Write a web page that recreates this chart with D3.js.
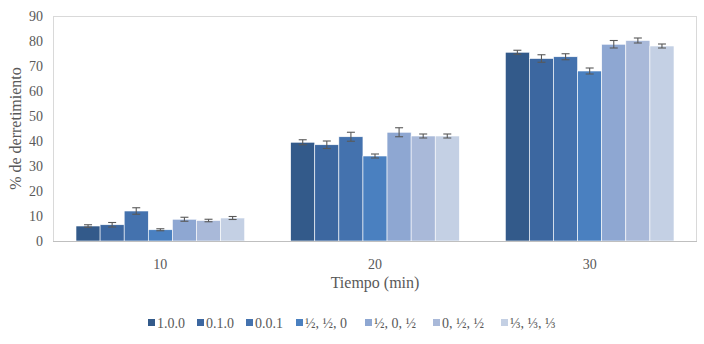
<!DOCTYPE html>
<html>
<head>
<meta charset="utf-8">
<script src="https://cdn.jsdelivr.net/npm/d3@7"></script>
<style>
  body { margin: 0; background: #fff; }
</style>
</head>
<body>
<div id="chart"></div>
<script>
// data
var categories = ["10", "20", "30"];
var series = ["1.0.0", "0.1.0", "0.0.1", "½, ½, 0", "½, 0, ½", "0, ½, ½", "⅓, ⅓, ⅓"];
var values = [
  [6, 6.5, 12, 4.5, 8.7, 8.2, 9.2],
  [39.5, 38.5, 41.7, 34, 43.5, 42, 42],
  [75.5, 73, 73.7, 68, 78.7, 80.2, 78]
];
var errors = [
  [0.5, 0.9, 1.3, 0.4, 0.8, 0.5, 0.6],
  [1, 1.5, 1.8, 0.8, 1.8, 0.8, 0.8],
  [0.8, 1.5, 1.2, 1.2, 1.5, 1, 0.8]
];
var yTicks = [0, 10, 20, 30, 40, 50, 60, 70, 80, 90];
var colors = ["#335a8a", "#3c67a0", "#4472ae", "#4a80c0", "#8ea7d2", "#a9b9d9", "#c4d0e4"];

var W = 704, H = 344;
var margin = {top: 16, right: 7, bottom: 103, left: 53},
    width = W - margin.left - margin.right,
    height = H - margin.top - margin.bottom;

var svg = d3.select("#chart")
  .append("svg")
    .attr("width", W)
    .attr("height", H)
    .attr("font-family", "'Liberation Serif', 'DejaVu Serif', serif")
    .style("font-family", "'Liberation Serif', 'DejaVu Serif', serif");

var g = svg.append("g")
    .attr("transform", "translate(" + margin.left + "," + margin.top + ")");

// plot area border
g.append("rect")
  .attr("x", 0.5).attr("y", 0.5)
  .attr("width", width - 1).attr("height", height)
  .attr("fill", "none")
  .attr("stroke", "#d9d9d9");

var x0 = d3.scaleBand()
  .domain(categories)
  .range([0, width])
  .paddingInner(0)
  .paddingOuter(0);

var x1 = d3.scaleBand()
  .domain(series)
  .range([23, x0.bandwidth() - 23]);

var y = d3.scaleLinear()
  .domain([0, 90])
  .range([height, 0]);

// y axis labels
g.selectAll(".ytick")
  .data(yTicks)
  .enter().append("text")
    .attr("class", "ytick")
    .attr("x", -10)
    .attr("y", d => y(d))
    .attr("dy", "0.35em")
    .attr("text-anchor", "end")
    .attr("fill", "#595959")
    .style("font-size", "14px")
    .text(d => d);

// bars
var groups = g.selectAll(".grp")
  .data(categories)
  .enter().append("g")
    .attr("class", "grp")
    .attr("transform", d => "translate(" + x0(d) + ",0)");

groups.selectAll("rect")
  .data((d, i) => series.map((s, j) => ({s: s, j: j, v: values[i][j], e: errors[i][j]})))
  .enter().append("rect")
    .attr("x", d => x1(d.s))
    .attr("y", d => y(d.v))
    .attr("width", x1.bandwidth())
    .attr("height", d => height - y(d.v))
    .attr("fill", d => colors[d.j])
    .attr("stroke", "#ffffff")
    .attr("stroke-width", 0.6);

// error bars
var eb = groups.selectAll(".err")
  .data((d, i) => series.map((s, j) => ({s: s, v: values[i][j], e: errors[i][j]})))
  .enter().append("g")
    .attr("class", "err")
    .attr("stroke", "#595959")
    .attr("stroke-width", 1.1);

eb.append("line")
  .attr("x1", d => x1(d.s) + x1.bandwidth() / 2)
  .attr("x2", d => x1(d.s) + x1.bandwidth() / 2)
  .attr("y1", d => y(d.v - d.e))
  .attr("y2", d => y(d.v + d.e));
eb.append("line")
  .attr("x1", d => x1(d.s) + x1.bandwidth() / 2 - 4)
  .attr("x2", d => x1(d.s) + x1.bandwidth() / 2 + 4)
  .attr("y1", d => y(d.v + d.e))
  .attr("y2", d => y(d.v + d.e));
eb.append("line")
  .attr("x1", d => x1(d.s) + x1.bandwidth() / 2 - 4)
  .attr("x2", d => x1(d.s) + x1.bandwidth() / 2 + 4)
  .attr("y1", d => y(d.v - d.e))
  .attr("y2", d => y(d.v - d.e));

// x axis line
g.append("line")
  .attr("x1", 0).attr("x2", width)
  .attr("y1", height + 0.5).attr("y2", height + 0.5)
  .attr("stroke", "#bfbfbf")
  .attr("stroke-width", 1.2);

// x category labels
g.selectAll(".xtick")
  .data(categories)
  .enter().append("text")
    .attr("class", "xtick")
    .attr("x", d => x0(d) + x0.bandwidth() / 2)
    .attr("y", height + 28)
    .attr("text-anchor", "middle")
    .attr("fill", "#595959")
    .style("font-size", "14px")
    .text(d => d);

// axis titles
svg.append("text")
  .attr("x", margin.left + width / 2)
  .attr("y", 288)
  .attr("text-anchor", "middle")
  .attr("fill", "#595959")
  .style("font-size", "16px")
  .text("Tiempo (min)");

svg.append("text")
  .attr("transform", "translate(21," + (margin.top + height / 2) + ") rotate(-90)")
  .attr("text-anchor", "middle")
  .attr("fill", "#595959")
  .style("font-size", "16px")
  .text("% de derretimiento");

// legend
var legendX = [148, 197, 246, 296, 365, 433, 501];
var leg = svg.selectAll(".leg")
  .data(series)
  .enter().append("g")
    .attr("class", "leg")
    .attr("transform", (d, i) => "translate(" + legendX[i] + ",323)");

leg.append("rect")
  .attr("x", 0).attr("y", -4)
  .attr("width", 7).attr("height", 7)
  .attr("fill", (d, i) => colors[i]);

leg.append("text")
  .attr("x", 9)
  .attr("y", 0)
  .attr("dy", "0.35em")
  .attr("fill", "#595959")
  .style("font-size", "14px")
  .text(d => d);
</script>
</body>
</html>
